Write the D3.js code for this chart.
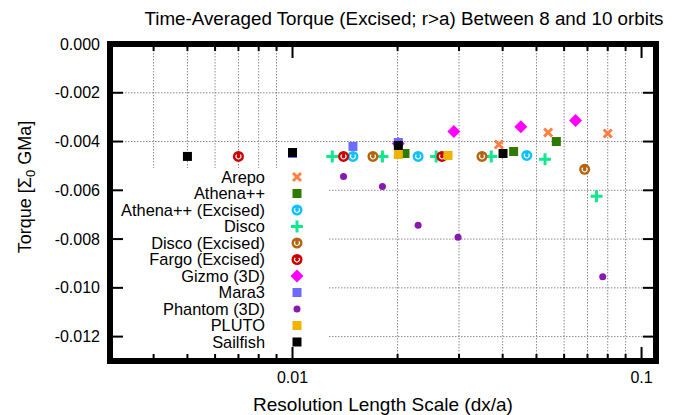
<!DOCTYPE html>
<html>
<head>
<meta charset="utf-8">
<script src="https://cdn.jsdelivr.net/npm/d3@7"></script>
<style>
  body { margin: 0; background: #fff; }
  svg { display: block; font-family: 'Liberation Sans', Arial, Helvetica, sans-serif; }
</style>
</head>
<body>
<div id="chart"></div>
<script>
// Resolution (dx/a) and time-averaged torque for each code.
const arepoX = [0.039, 0.054, 0.080];
const arepoY = [-0.00412, -0.00363, -0.00367];
const athenaX = [0.021, 0.043, 0.057];
const athenaY = [-0.00449, -0.00441, -0.00400];
const athenaExX = [0.0149, 0.0229, 0.0469];
const athenaExY = [-0.00461, -0.00461, -0.00457];
const discoX = [0.0130, 0.0181, 0.0258, 0.0371, 0.0529, 0.0743];
const discoY = [-0.00461, -0.00461, -0.00461, -0.00461, -0.00473, -0.00624];
const discoExX = [0.0170, 0.0349, 0.0687];
const discoExY = [-0.00461, -0.00461, -0.00514];
const fargoExX = [0.0070, 0.0140, 0.0268];
const fargoExY = [-0.00461, -0.00461, -0.00461];
const gizmoX = [0.0201, 0.0290, 0.0451, 0.0647];
const gizmoY = [-0.00408, -0.00359, -0.00339, -0.00314];
const maraX = [0.0100, 0.0149, 0.0201];
const maraY = [-0.00449, -0.00420, -0.00404];
const phantomX = [0.0140, 0.0181, 0.0229, 0.0298, 0.0774];
const phantomY = [-0.00543, -0.00584, -0.00743, -0.00792, -0.00955];
const plutoX = [0.0201, 0.0279];
const plutoY = [-0.00453, -0.00457];
const sailfishX = [0.0050, 0.0100, 0.0201, 0.0401];
const sailfishY = [-0.00461, -0.00445, -0.00416, -0.00449];

const seriesNames = ['Arepo', 'Athena++', 'Athena++ (Excised)', 'Disco', 'Disco (Excised)',
  'Fargo (Excised)', 'Gizmo (3D)', 'Mara3', 'Phantom (3D)', 'PLUTO', 'Sailfish'];

const yTicks = [0, -0.002, -0.004, -0.006, -0.008, -0.010, -0.012];
const xMajorTicks = [0.01, 0.1];
const xMinorTicks = [0.004, 0.005, 0.006, 0.007, 0.008, 0.009,
  0.02, 0.03, 0.04, 0.05, 0.06, 0.07, 0.08, 0.09];

const titleText = 'Time-Averaged Torque (Excised; r>a) Between 8 and 10 orbits';

// style per series (marker kind + colour)
const styles = [
  { kind: 'cross', color: '#ff7f40' },
  { kind: 'square', color: '#2f7a00' },
  { kind: 'ring', color: '#10c0ff' },
  { kind: 'plus', color: '#10e890' },
  { kind: 'ring', color: '#b4650c' },
  { kind: 'ring', color: '#cc0000' },
  { kind: 'diamond', color: '#ff00ff' },
  { kind: 'square', color: '#6b6bff' },
  { kind: 'dot', color: '#8a18b0' },
  { kind: 'square', color: '#f0b400' },
  { kind: 'square', color: '#000000' },
];

const xs = [arepoX, athenaX, athenaExX, discoX, discoExX, fargoExX, gizmoX, maraX, phantomX, plutoX, sailfishX];
const ys = [arepoY, athenaY, athenaExY, discoY, discoExY, fargoExY, gizmoY, maraY, phantomY, plutoY, sailfishY];

const width = 683, height = 415;
const margin = { top: 44, right: 27, bottom: 54, left: 110 };
const plotW = width - margin.left - margin.right;
const plotH = height - margin.top - margin.bottom;

const x = d3.scaleLog().domain([0.003, 0.11]).range([0, plotW]);
const y = d3.scaleLinear().domain([-0.013, 0]).range([plotH, 0]);

const svg = d3.select('#chart').append('svg')
  .attr('width', width)
  .attr('height', height);

// Title
svg.append('text')
  .attr('x', 404)
  .attr('y', 25)
  .attr('text-anchor', 'middle')
  .style('font-size', '18.8px')
  .text(titleText);

const g = svg.append('g').attr('transform', `translate(${margin.left},${margin.top})`);

// Grid: minor x ticks and y ticks, dotted grey
const gridStyle = sel => sel.attr('stroke', '#8a8a8a').attr('stroke-width', 1).attr('stroke-dasharray', '1.5,1.5');
g.selectAll('line.xgrid').data(xMinorTicks).enter().append('line')
  .attr('class', 'xgrid')
  .attr('x1', d => x(d)).attr('x2', d => x(d))
  .attr('y1', 0).attr('y2', plotH)
  .call(gridStyle);
g.selectAll('line.ygrid').data(yTicks.slice(1)).enter().append('line')
  .attr('class', 'ygrid')
  .attr('x1', 0).attr('x2', plotW)
  .attr('y1', d => y(d)).attr('y2', d => y(d))
  .call(gridStyle);

// Opaque key box hides the grid underneath it
const key = { left: 3, top: 124, right: 218, bottom: plotH - 3 };
g.append('rect')
  .attr('x', key.left).attr('y', key.top)
  .attr('width', key.right - key.left).attr('height', key.bottom - key.top)
  .attr('fill', '#fff');

// Marker drawing
function drawMarker(sel, s) {
  const c = s.color;
  if (s.kind === 'square') {
    sel.append('rect').attr('x', -4.5).attr('y', -4.5).attr('width', 9).attr('height', 9).attr('fill', c);
  } else if (s.kind === 'cross') {
    sel.append('path').attr('d', 'M-4,-4L4,4M-4,4L4,-4')
      .attr('stroke', c).attr('stroke-width', 3).attr('fill', 'none');
  } else if (s.kind === 'plus') {
    sel.append('path').attr('d', 'M-6,0L6,0M0,-6L0,6')
      .attr('stroke', c).attr('stroke-width', 3).attr('fill', 'none');
  } else if (s.kind === 'diamond') {
    sel.append('path').attr('d', 'M0,-6.5L6.5,0L0,6.5L-6.5,0Z').attr('fill', c);
  } else if (s.kind === 'dot') {
    sel.append('circle').attr('r', 3.5).attr('fill', c);
  } else if (s.kind === 'ring') {
    sel.append('circle').attr('r', 5.5).attr('fill', c);
    // small white "c" inside the filled circle
    const arc = d3.arc().innerRadius(1.9).outerRadius(3)
      .startAngle(Math.PI * 0.25).endAngle(Math.PI * 1.75);
    sel.append('path').attr('d', arc()).attr('fill', '#fff');
  }
}

// Data points, drawn in legend order
styles.forEach((s, i) => {
  const pts = xs[i].map((v, j) => ({ x: v, y: ys[i][j] }));
  g.selectAll(`g.pt-${i}`).data(pts).enter().append('g')
    .attr('class', `pt-${i}`)
    .attr('transform', d => `translate(${x(d.x)},${y(d.y)})`)
    .each(function () { drawMarker(d3.select(this), s); });
});

// Ticks, inward, mirrored on all sides
const tickStyle = sel => sel.attr('stroke', '#000').attr('stroke-width', 2);
yTicks.forEach(t => {
  g.append('line').attr('x1', 0).attr('x2', 13).attr('y1', y(t)).attr('y2', y(t)).call(tickStyle);
  g.append('line').attr('x1', plotW - 13).attr('x2', plotW).attr('y1', y(t)).attr('y2', y(t)).call(tickStyle);
});
xMajorTicks.forEach(t => {
  g.append('line').attr('x1', x(t)).attr('x2', x(t)).attr('y1', plotH).attr('y2', plotH - 14).call(tickStyle);
  g.append('line').attr('x1', x(t)).attr('x2', x(t)).attr('y1', 0).attr('y2', 14).call(tickStyle);
});
xMinorTicks.forEach(t => {
  g.append('line').attr('x1', x(t)).attr('x2', x(t)).attr('y1', plotH).attr('y2', plotH - 7).call(tickStyle);
  g.append('line').attr('x1', x(t)).attr('x2', x(t)).attr('y1', 0).attr('y2', 7).call(tickStyle);
});

// Frame
g.append('rect')
  .attr('x', 0).attr('y', 0).attr('width', plotW).attr('height', plotH)
  .attr('fill', 'none').attr('stroke', '#000').attr('stroke-width', 6);

// Tick labels
g.selectAll('text.ylab').data(yTicks).enter().append('text')
  .attr('class', 'ylab')
  .attr('x', -10)
  .attr('y', d => y(d) + 5.5)
  .attr('text-anchor', 'end')
  .style('font-size', '16px')
  .text(d => d3.format('.3f')(d).replace('−', '-'));
g.selectAll('text.xlab').data(xMajorTicks).enter().append('text')
  .attr('class', 'xlab')
  .attr('x', d => x(d))
  .attr('y', plotH + 22)
  .attr('text-anchor', 'middle')
  .style('font-size', '16px')
  .text(d => String(d));

// Axis titles
svg.append('text')
  .attr('x', margin.left + plotW / 2)
  .attr('y', 411)
  .attr('text-anchor', 'middle')
  .style('font-size', '19px')
  .text('Resolution Length Scale (dx/a)');

const yl = svg.append('text')
  .attr('transform', 'translate(31,187) rotate(-90)')
  .attr('text-anchor', 'middle')
  .style('font-size', '18px');
yl.append('tspan').text('Torque [\u03A3');
yl.append('tspan').attr('dy', 4).style('font-size', '13px').text('0');
yl.append('tspan').attr('dy', -4).text(' GMa]');

// Key entries
const rowH = 16.5;
seriesNames.forEach((name, i) => {
  const cy = 133 + i * rowH;
  g.append('text')
    .attr('x', 155)
    .attr('y', cy + 5.5)
    .attr('text-anchor', 'end')
    .style('font-size', '16.4px')
    .text(name);
  const m = g.append('g').attr('transform', `translate(187,${cy})`);
  drawMarker(m, styles[i]);
});
</script>
</body>
</html>
